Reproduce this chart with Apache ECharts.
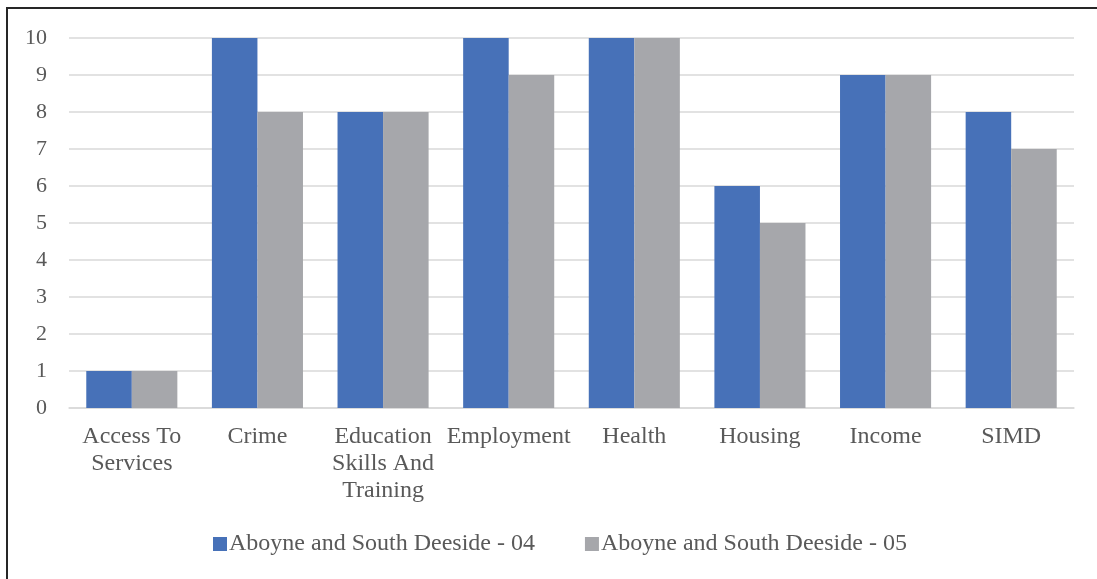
<!DOCTYPE html>
<html>
<head>
<meta charset="utf-8">
<script src="https://cdn.jsdelivr.net/npm/echarts@6/dist/echarts.min.js"></script>
<style>
  html, body { margin: 0; padding: 0; background: #fff; }
  #main { width: 1097px; height: 579px; }
</style>
</head>
<body>
<div id="main"></div>
<script>
// categories and values
var categories = ['Access To\nServices', 'Crime', 'Education\nSkills And\nTraining', 'Employment', 'Health', 'Housing', 'Income', 'SIMD'];
var series04 = [1, 10, 8, 10, 10, 6, 9, 8];
var series05 = [1, 8, 8, 9, 10, 5, 9, 7];
var seriesNames = ['Aboyne and South Deeside - 04', 'Aboyne and South Deeside - 05'];

(function(){
    var myChart = echarts.init(document.getElementById('main'));
    var font = '"Liberation Serif", "DejaVu Serif", serif';
    var option = {
        animation: false,
        textStyle: { fontFamily: font },
        // outer frame
        graphic: [{
            type: 'rect',
            shape: { x: 7, y: 8, width: 1200, height: 700 },
            style: { fill: 'none', stroke: '#262626', lineWidth: 2 }
        }],
        grid: { left: 69, right: 23, top: 38, bottom: 171, containLabel: false },
        legend: {
            bottom: 18,
            left: 208,
            itemWidth: 14,
            itemHeight: 14,
            itemGap: 50,
            icon: 'rect',
            textStyle: { fontFamily: font, fontSize: 24, color: '#595959', padding: [0, 0, 0, -3] },
            data: seriesNames
        },
        xAxis: {
            type: 'category',
            data: categories,
            axisLine: { show: true, lineStyle: { color: '#D9D9D9', width: 1.5 } },
            axisTick: { show: false },
            axisLabel: {
                interval: 0,
                margin: 15,
                fontFamily: font,
                fontSize: 24,
                color: '#595959',
                lineHeight: 27
            }
        },
        yAxis: {
            type: 'value',
            min: 0,
            max: 10,
            interval: 1,
            axisLine: { show: false },
            axisTick: { show: false },
            splitLine: { lineStyle: { color: '#D9D9D9', width: 1.5 } },
            axisLabel: {
                margin: 22,
                fontFamily: font,
                fontSize: 22,
                color: '#595959'
            }
        },
        series: [{
            name: seriesNames[0],
            type: 'bar',
            data: series04,
            barGap: '0%',
            barCategoryGap: '27.5%',
            itemStyle: { color: '#4771B8' }
        }, {
            name: seriesNames[1],
            type: 'bar',
            data: series05,
            barGap: '0%',
            barCategoryGap: '27.5%',
            itemStyle: { color: '#A6A7AB' }
        }]
    };
    myChart.setOption(option);
})();
</script>
</body>
</html>
